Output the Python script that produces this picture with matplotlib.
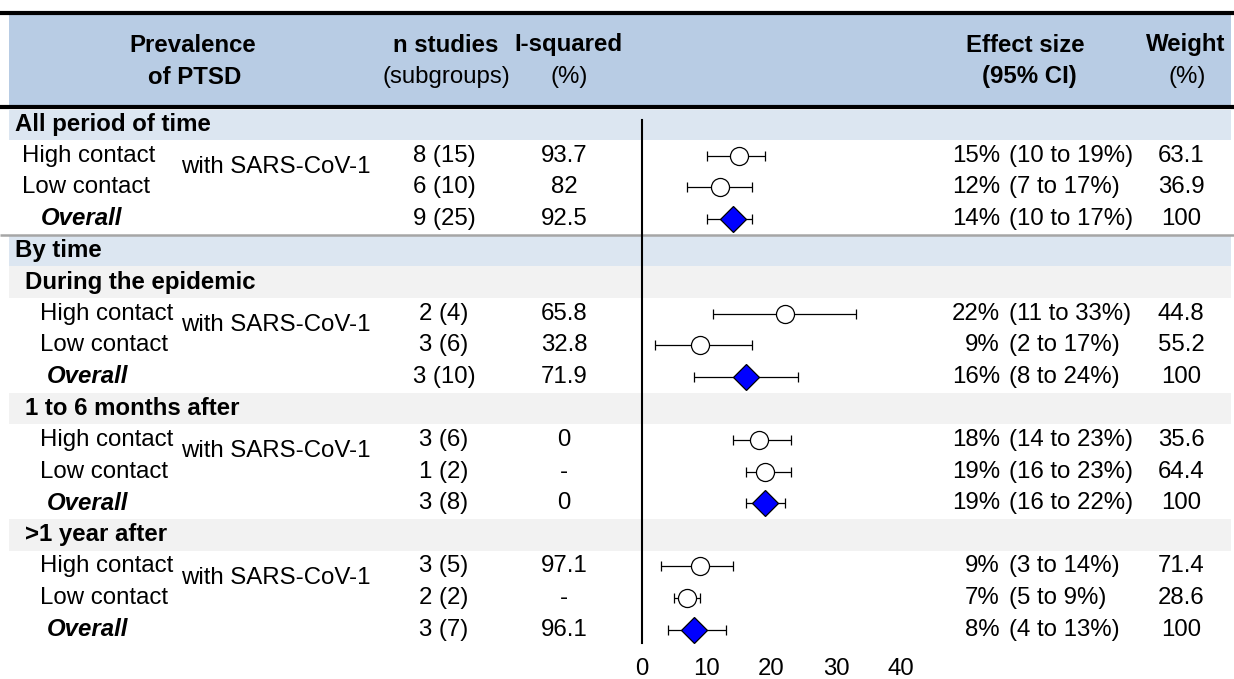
import matplotlib
matplotlib.use('Agg')
import matplotlib.pyplot as plt
from matplotlib.patches import Rectangle

plt.rcParams['font.family'] = ['Liberation Sans', 'DejaVu Sans']

# ---------------- data ----------------
groups = ["All period of time", "During the epidemic", "1 to 6 months after", ">1 year after"]
section_by_time = "By time"
row_names = ["High contact", "Low contact", "Overall"]
contact_note = "with SARS-CoV-1"
n_studies = [["8 (15)", "6 (10)", "9 (25)"],
             ["2 (4)", "3 (6)", "3 (10)"],
             ["3 (6)", "1 (2)", "3 (8)"],
             ["3 (5)", "2 (2)", "3 (7)"]]
i_squared = [["93.7", "82", "92.5"],
             ["65.8", "32.8", "71.9"],
             ["0", "-", "0"],
             ["97.1", "-", "96.1"]]
effect = [[15, 12, 14], [22, 9, 16], [18, 19, 19], [9, 7, 8]]
ci_low = [[10, 7, 10], [11, 2, 8], [14, 16, 16], [3, 5, 4]]
ci_high = [[19, 17, 17], [33, 17, 24], [23, 23, 22], [14, 9, 13]]
weight = [["63.1", "36.9", "100"],
          ["44.8", "55.2", "100"],
          ["35.6", "64.4", "100"],
          ["71.4", "28.6", "100"]]
xticks = [0, 10, 20, 30, 40]

# ---------------- layout ----------------
W, H = 1234, 679
FS = 17.3
fig = plt.figure(figsize=(W / 100, H / 100), dpi=100)
ax = fig.add_axes([0, 0, 1, 1])
ax.set_xlim(0, W)
ax.set_ylim(H, 0)
ax.axis('off')

ROW0, DR = 124, 31.6
def ry(i):
    return ROW0 + DR * i

HDR_C = '#b8cce4'
SEC_C = '#dce6f1'
SUB_C = '#f2f2f2'
BX0, BX1 = 9, 1231

# header band
ax.add_patch(Rectangle((BX0, 14), BX1 - BX0, 92, color=HDR_C, lw=0, zorder=0))
ax.plot([0, W], [12.5, 12.5], color='black', lw=3.0, solid_capstyle='butt', zorder=2)
ax.plot([0, W], [106.5, 106.5], color='black', lw=3.0, solid_capstyle='butt', zorder=2)

# group rows (header rows)
group_rows = [0, 5, 9, 13]
sub_rows = [[1, 2, 3], [6, 7, 8], [10, 11, 12], [14, 15, 16]]
band_colors = [SEC_C, SUB_C, SUB_C, SUB_C]
for gi, r in enumerate(group_rows):
    top = ry(r) - DR / 2 + (1.5 if gi == 0 else 0)
    ax.add_patch(Rectangle((BX0, top), BX1 - BX0, ry(r) + DR / 2 - top,
                           color=band_colors[gi], lw=0, zorder=0))
# "By time" row
ax.add_patch(Rectangle((BX0, ry(4) - DR / 2 + 1.5), BX1 - BX0, DR - 1.5, color=SEC_C, lw=0, zorder=0))
ax.plot([0, W], [ry(3.5), ry(3.5)], color='#a6a6a6', lw=1.8, solid_capstyle='butt', zorder=2)

# header text
hy1, hy2 = 45, 77
ax.text(193, hy1, "Prevalence", ha='center', va='center', fontsize=FS, fontweight='bold')
ax.text(195, hy2, "of PTSD", ha='center', va='center', fontsize=FS, fontweight='bold')
ax.text(446, hy1, "n studies", ha='center', va='center', fontsize=FS, fontweight='bold')
ax.text(446, hy2, "(subgroups)", ha='center', va='center', fontsize=FS)
ax.text(568, hy1, "I-squared", ha='center', va='center', fontsize=FS, fontweight='bold')
ax.text(569, hy2, "(%)", ha='center', va='center', fontsize=FS)
ax.text(1025, hy1, "Effect size", ha='center', va='center', fontsize=FS, fontweight='bold')
ax.text(1029, hy2, "(95% CI)", ha='center', va='center', fontsize=FS, fontweight='bold')
ax.text(1186, hy1, "Weight", ha='center', va='center', fontsize=FS, fontweight='bold')
ax.text(1187, hy2, "(%)", ha='center', va='center', fontsize=FS)

# section labels
ax.text(15, ry(0), groups[0], ha='left', va='center', fontsize=FS, fontweight='bold')
ax.text(15, ry(4), section_by_time, ha='left', va='center', fontsize=FS, fontweight='bold')
for gi in range(1, 4):
    ax.text(25, ry(group_rows[gi]), groups[gi], ha='left', va='center', fontsize=FS, fontweight='bold')

# forest axes
X0, PXU = 642, 6.48
fax = fig.add_axes([X0 / W, (H - 643) / H, 40 * PXU / W, (643 - 120) / H])
fax.set_xlim(0, 40)
fax.set_ylim(643, 120)
fax.patch.set_alpha(0)
for s in ['top', 'right', 'bottom']:
    fax.spines[s].set_visible(False)
fax.spines['left'].set_linewidth(1.5)
fax.set_yticks([])
fax.set_xticks(xticks)
fax.set_xticklabels([str(t) for t in xticks], fontsize=FS)
fax.tick_params(axis='x', length=0, pad=10.5)

for gi in range(4):
    for k in range(3):
        r = sub_rows[gi][k]
        y = ry(r)
        # label column
        if k < 2:
            lx = 22 if gi == 0 else 40
            ax.text(lx, y, row_names[k], ha='left', va='center', fontsize=FS)
        else:
            lx = 41 if gi == 0 else 47
            ax.text(lx, y, row_names[k], ha='left', va='center', fontsize=FS,
                    fontweight='bold', fontstyle='italic')
        ax.text(444, y, n_studies[gi][k], ha='center', va='center', fontsize=FS)
        ax.text(564, y, i_squared[gi][k], ha='center', va='center', fontsize=FS)
        ax.text(1000, y, f"{effect[gi][k]}%", ha='right', va='center', fontsize=FS)
        ax.text(1009, y, f"({ci_low[gi][k]} to {ci_high[gi][k]}%)", ha='left', va='center', fontsize=FS)
        ax.text(1181, y, weight[gi][k], ha='center', va='center', fontsize=FS)
        # forest marks
        e = effect[gi][k]
        fax.errorbar([e], [y], xerr=[[e - ci_low[gi][k]], [ci_high[gi][k] - e]],
                     fmt='none', ecolor='black', elinewidth=0.9, capsize=3.3,
                     capthick=0.9, clip_on=False, zorder=3)
        if k < 2:
            fax.plot([e], [y], marker='o', ms=13, mfc='white', mec='black', mew=0.9,
                     ls='none', clip_on=False, zorder=4)
        else:
            fax.plot([e], [y], marker='D', ms=13, mfc='#0000ff', mec='black', mew=0.9,
                     ls='none', clip_on=False, zorder=4)
    ax.text(181, ry(sub_rows[gi][0]) + 0.36 * DR, contact_note, ha='left', va='center', fontsize=FS)

fig.savefig('out.png', dpi=100)
